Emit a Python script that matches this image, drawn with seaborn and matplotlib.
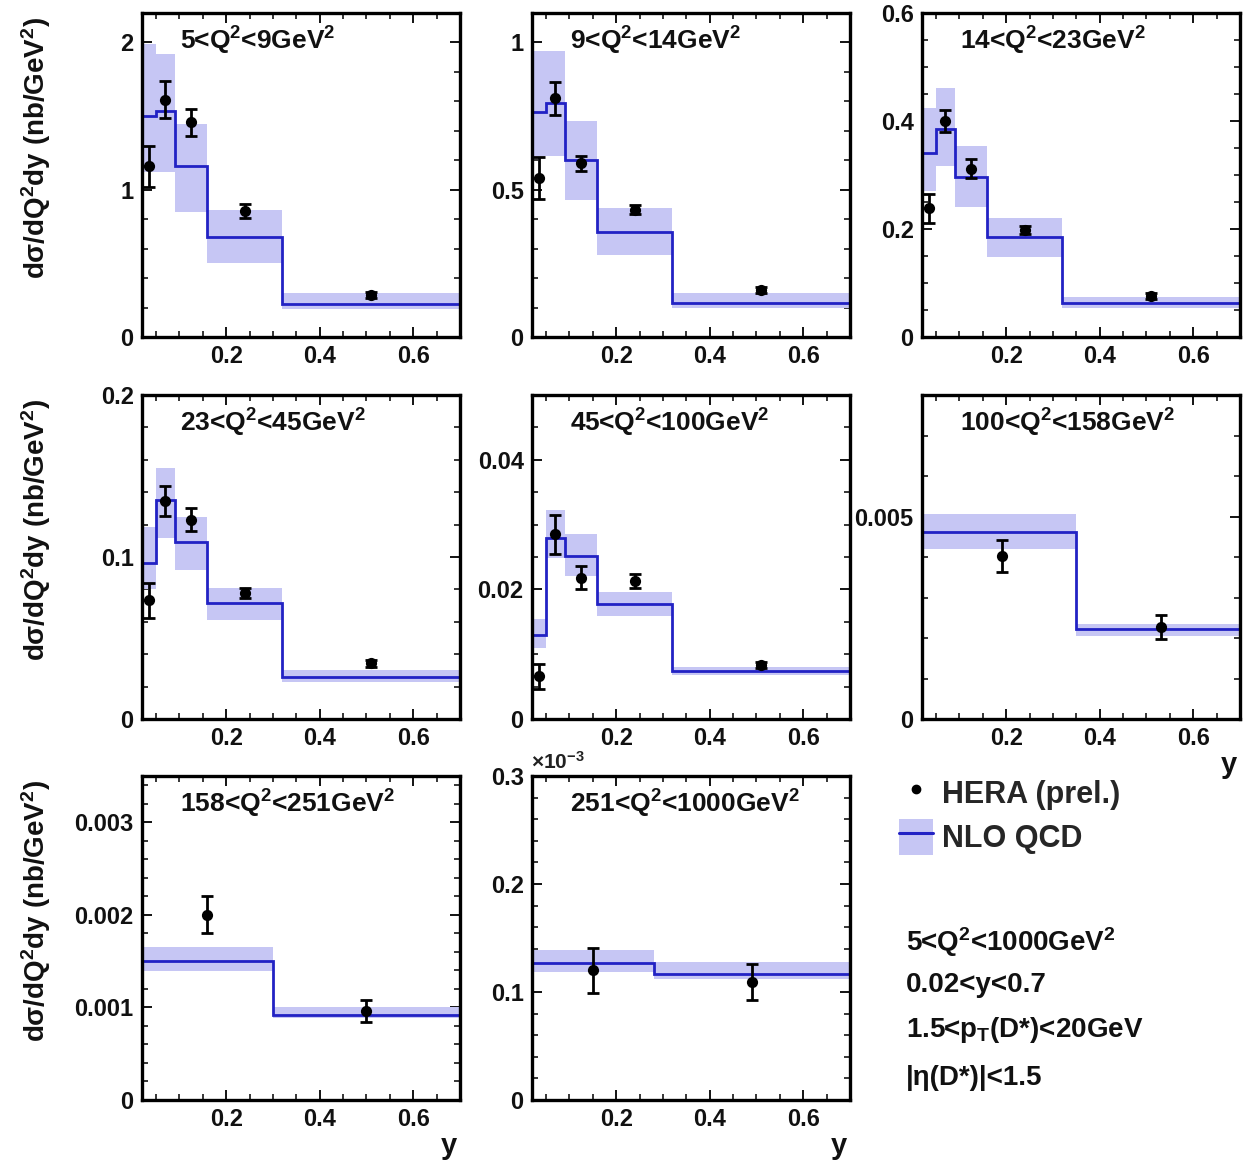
import numpy as np
import pandas as pd
import seaborn as sns
import matplotlib
matplotlib.use("Agg")
import matplotlib.pyplot as plt
from matplotlib.ticker import MultipleLocator, FuncFormatter
from matplotlib.lines import Line2D
from matplotlib.patches import Patch

# ---------------- data ----------------
q2_labels = [
    "5<Q$^2$<9GeV$^2$", "9<Q$^2$<14GeV$^2$", "14<Q$^2$<23GeV$^2$",
    "23<Q$^2$<45GeV$^2$", "45<Q$^2$<100GeV$^2$", "100<Q$^2$<158GeV$^2$",
    "158<Q$^2$<251GeV$^2$", "251<Q$^2$<1000GeV$^2$",
]

edges_fine = [0.02, 0.05, 0.09, 0.16, 0.32, 0.70]
ycent_fine = [0.035, 0.07, 0.125, 0.24, 0.51]

edges_p6 = [0.02, 0.35, 0.70]
ycent_p6 = [0.19, 0.53]
edges_p7 = [0.02, 0.30, 0.70]
ycent_p7 = [0.16, 0.50]
edges_p8 = [0.02, 0.28, 0.70]
ycent_p8 = [0.15, 0.49]

# HERA data (value, error)
data_p1 = [1.16, 1.61, 1.457, 0.856, 0.286]
err_p1 = [0.14, 0.125, 0.09, 0.045, 0.02]
data_p2 = [0.54, 0.81, 0.59, 0.432, 0.159]
err_p2 = [0.07, 0.057, 0.025, 0.015, 0.01]
data_p3 = [0.238, 0.40, 0.312, 0.198, 0.076]
err_p3 = [0.027, 0.021, 0.017, 0.008, 0.005]
data_p4 = [0.0732, 0.1346, 0.123, 0.0777, 0.0344]
err_p4 = [0.011, 0.009, 0.007, 0.003, 0.002]
data_p5 = [0.00656, 0.02853, 0.0218, 0.0213, 0.00837]
err_p5 = [0.002, 0.003, 0.0018, 0.0011, 0.0005]
data_p6 = [0.00403, 0.00228]
err_p6 = [0.0004, 0.0003]
data_p7 = [0.0020, 0.000964]
err_p7 = [0.0002, 0.00012]
data_p8 = [0.120e-3, 0.109e-3]
err_p8 = [0.021e-3, 0.0165e-3]

# NLO QCD (central, upper, lower)
nlo_p1 = [1.50, 1.536, 1.164, 0.676, 0.225]
nlo_hi_p1 = [1.99, 1.92, 1.446, 0.865, 0.302]
nlo_lo_p1 = [1.12, 1.12, 0.849, 0.505, 0.19]
nlo_p2 = [0.764, 0.795, 0.602, 0.355, 0.116]
nlo_hi_p2 = [0.97, 0.97, 0.733, 0.4375, 0.15]
nlo_lo_p2 = [0.614, 0.614, 0.466, 0.278, 0.097]
nlo_p3 = [0.34, 0.386, 0.297, 0.185, 0.063]
nlo_hi_p3 = [0.424, 0.4615, 0.354, 0.2197, 0.075]
nlo_lo_p3 = [0.27, 0.316, 0.24, 0.148, 0.054]
nlo_p4 = [0.0963, 0.135, 0.109, 0.0715, 0.0258]
nlo_hi_p4 = [0.1186, 0.155, 0.125, 0.081, 0.0303]
nlo_lo_p4 = [0.08, 0.112, 0.092, 0.061, 0.0227]
nlo_p5 = [0.0129, 0.028, 0.0252, 0.0178, 0.00744]
nlo_hi_p5 = [0.0155, 0.0322, 0.0286, 0.0196, 0.0081]
nlo_lo_p5 = [0.011, 0.0249, 0.022, 0.0159, 0.0068]
nlo_p6 = [0.00461, 0.00221]
nlo_hi_p6 = [0.00507, 0.00235]
nlo_lo_p6 = [0.0042, 0.00204]
nlo_p7 = [0.0015, 0.00092]
nlo_hi_p7 = [0.00165, 0.0010]
nlo_lo_p7 = [0.00139, 0.000885]
nlo_p8 = [0.127e-3, 0.117e-3]
nlo_hi_p8 = [0.139e-3, 0.128e-3]
nlo_lo_p8 = [0.1186e-3, 0.112e-3]

ymax = [2.2, 1.1, 0.6, 0.2, 0.05, 0.008, 0.0035, 0.3e-3]
ymajor = [1.0, 0.5, 0.2, 0.1, 0.02, 0.005, 0.001, 0.1e-3]
yminor = [0.2, 0.1, 0.05, 0.02, 0.005, 0.001, 0.0002, 0.02e-3]

info_lines = ["5<Q$^2$<1000GeV$^2$", "0.02<y<0.7",
              "1.5<p$_\\mathregular{T}$(D*)<20GeV", "|η(D*)|<1.5"]

panels = [
    (edges_fine, ycent_fine, data_p1, err_p1, nlo_p1, nlo_hi_p1, nlo_lo_p1),
    (edges_fine, ycent_fine, data_p2, err_p2, nlo_p2, nlo_hi_p2, nlo_lo_p2),
    (edges_fine, ycent_fine, data_p3, err_p3, nlo_p3, nlo_hi_p3, nlo_lo_p3),
    (edges_fine, ycent_fine, data_p4, err_p4, nlo_p4, nlo_hi_p4, nlo_lo_p4),
    (edges_fine, ycent_fine, data_p5, err_p5, nlo_p5, nlo_hi_p5, nlo_lo_p5),
    (edges_p6, ycent_p6, data_p6, err_p6, nlo_p6, nlo_hi_p6, nlo_lo_p6),
    (edges_p7, ycent_p7, data_p7, err_p7, nlo_p7, nlo_hi_p7, nlo_lo_p7),
    (edges_p8, ycent_p8, data_p8, err_p8, nlo_p8, nlo_hi_p8, nlo_lo_p8),
]

# ---------------- style ----------------
sns.set_theme(style="ticks")
plt.rcParams["font.family"] = ["Liberation Sans", "DejaVu Sans"]
plt.rcParams["font.weight"] = "bold"
plt.rcParams["mathtext.fontset"] = "custom"
plt.rcParams["mathtext.rm"] = "Liberation Sans:bold"
plt.rcParams["mathtext.it"] = "Liberation Sans:bold"
plt.rcParams["mathtext.bf"] = "Liberation Sans:bold"
plt.rcParams["mathtext.sf"] = "Liberation Sans:bold"
plt.rcParams["mathtext.default"] = "rm"

LINE = "#2222c4"
BAND = "#c6c6f4"
TXT = "#111111"

W, H = 1248, 1162
fig = plt.figure(figsize=(W / 100, H / 100), dpi=100)
fig.patch.set_facecolor("white")

col_left = [142, 532, 922]
row_top = [13, 395, 776]
aw, ah = 318, 324

ylabel = "dσ/dQ$^2$dy (nb/GeV$^2$)"

axes = []
for i, (edges, yc, dat, err, nlo, hi, lo) in enumerate(panels):
    r, c = divmod(i, 3)
    x0 = col_left[c]
    y0 = row_top[r]
    ax = fig.add_axes([x0 / W, 1 - (y0 + ah) / H, aw / W, ah / H])
    axes.append(ax)
    ax.set_facecolor("white")

    # NLO band and line
    ax.stairs(hi, edges, baseline=lo, fill=True, color=BAND, lw=0, zorder=1)
    ax.stairs(nlo, edges, baseline=0, color=LINE, lw=2.0, zorder=2)

    # data points
    df = pd.DataFrame({"y": yc, "val": dat, "err": err})
    ax.errorbar(df["y"], df["val"], yerr=df["err"], fmt="none",
                ecolor="black", elinewidth=2.0, capsize=4.5, capthick=2.0, zorder=3)
    sns.scatterplot(data=df, x="y", y="val", ax=ax, color="black", s=65,
                    edgecolor="black", linewidth=0, zorder=4, legend=False)

    ax.set_xlim(0.02, 0.70)
    ax.set_ylim(0, ymax[i])
    ax.xaxis.set_major_locator(MultipleLocator(0.2))
    ax.xaxis.set_minor_locator(MultipleLocator(0.05))
    ax.yaxis.set_major_locator(MultipleLocator(ymajor[i]))
    ax.yaxis.set_minor_locator(MultipleLocator(yminor[i]))
    if i == 7:
        ax.yaxis.set_major_formatter(FuncFormatter(lambda v, p: "%g" % round(v * 1e3, 6)))
    else:
        ax.yaxis.set_major_formatter(FuncFormatter(lambda v, p: "%g" % round(v, 8)))
    ax.xaxis.set_major_formatter(FuncFormatter(lambda v, p: "%g" % round(v, 6)))

    ax.tick_params(which="both", direction="in", top=True, right=True,
                   labelsize=17, colors="black", pad=6)
    ax.tick_params(which="major", length=7, width=1.3)
    ax.tick_params(which="minor", length=4, width=1.1)
    for lab in ax.get_xticklabels() + ax.get_yticklabels():
        lab.set_fontweight("bold")
        lab.set_color(TXT)
    for sp in ax.spines.values():
        sp.set_linewidth(2.4)
        sp.set_color("black")
        sp.set_zorder(5)

    ax.set_xlabel("")
    ax.set_ylabel("")
    ax.text(0.12, 0.915, q2_labels[i], transform=ax.transAxes, ha="left",
            va="center", fontsize=19, fontweight="bold", color=TXT)

    if c == 0:
        ax.set_ylabel(ylabel, fontsize=20, fontweight="bold", color=TXT)
        ax.yaxis.set_label_coords(-0.28, 0.585)
    if i in (5, 6, 7):
        ax.set_xlabel("y", fontsize=21, fontweight="bold", loc="right", color=TXT)
        ax.xaxis.set_label_coords(0.99, -0.10)

# x10^-3 multiplier for last panel
fig.text(531 / W, 1 - 762 / H, "×10$^{-3}$", ha="left", va="center",
         fontsize=15, fontweight="bold", color="#222222")

# legend
h_data = Line2D([], [], marker="o", ls="none", color="black", markersize=6)
h_nlo = (Patch(facecolor=BAND, edgecolor="none"), Line2D([], [], color=LINE, lw=2.2))
fig.legend([h_data, h_nlo], ["HERA (prel.)", "NLO QCD"],
           loc="upper left", bbox_to_anchor=(899 / W, 1 - 775 / H),
           frameon=False, fontsize=22, handlelength=1.1, handleheight=1.4,
           handletextpad=0.3, labelspacing=0.3, borderaxespad=0, borderpad=0)

for k, (txt, yy) in enumerate(zip(info_lines, [942, 985, 1030, 1078])):
    fig.text(906 / W, 1 - yy / H, txt, ha="left", va="center",
             fontsize=20, fontweight="bold", color=TXT)

fig.savefig("out.png", dpi=100, facecolor="white")
